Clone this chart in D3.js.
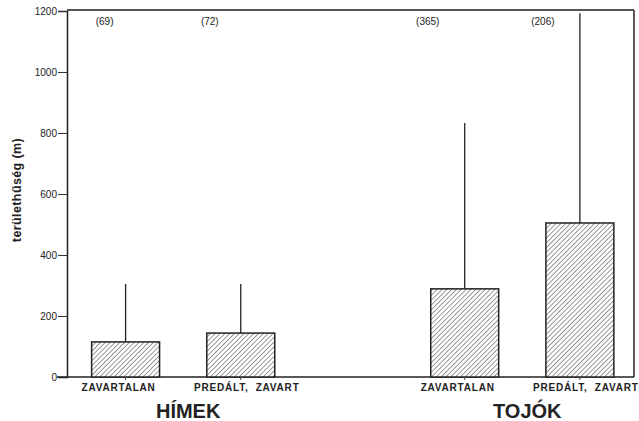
<!DOCTYPE html>
<html lang="hu">
<head>
    <meta charset="UTF-8">
    <title>Területhűség</title>
    <script src="https://d3js.org/d3.v7.min.js"></script>
    <style>
        body { margin: 0; background: #fff; }
        text { font-family: "Liberation Sans", Arial, sans-serif; fill: #222; }
        .tick-label { font-size: 10px; }
        .cat-label { font-size: 10px; font-weight: bold; letter-spacing: 0.8px; }
        .group-label { font-size: 20px; font-weight: bold; }
        .n-label { font-size: 10px; }
        .y-title { font-size: 12.5px; font-weight: bold; letter-spacing: 0.4px; }
    </style>
</head>
<body>
<div id="chart"></div>
<script>
    // data
    var groups = ["HÍMEK", "TOJÓK"];
    var categories = ["ZAVARTALAN", "PREDÁLT,  ZAVART"];
    var means = [[115, 144], [289, 505]];
    var upper = [[305, 305], [833, 1193]];
    var sampleSizes = [["(69)", "(72)"], ["(365)", "(206)"]];
    var yTicks = [0, 200, 400, 600, 800, 1000, 1200];

    var w = 639;
    var h = 421;
    var plotLeft = 67, plotRight = 634, plotTop = 11, plotBottom = 377;

    var rows = [];
    groups.forEach(function(g, gi) {
        categories.forEach(function(c, ci) {
            rows.push({group: g, gi: gi, cat: c, ci: ci, mean: means[gi][ci], up: upper[gi][ci], n: sampleSizes[gi][ci]});
        });
    });

    var svg = d3.select("#chart")
                .append("svg")
                .attr("width", w)
                .attr("height", h);

    var pattern = svg.append("defs")
        .append("pattern")
        .attr("id", "hatch")
        .attr("patternUnits", "userSpaceOnUse")
        .attr("width", 3.4)
        .attr("height", 3.4)
        .attr("patternTransform", "rotate(45)");
    pattern.append("rect").attr("width", 3.4).attr("height", 3.4).attr("fill", "#fff");
    pattern.append("line")
        .attr("x1", 0).attr("y1", 0).attr("x2", 0).attr("y2", 3.4)
        .attr("stroke", "#333").attr("stroke-width", 1);

    var xGroup = d3.scaleBand()
                   .domain(groups)
                   .range([plotLeft, plotRight])
                   .paddingInner(0.46)
                   .paddingOuter(0.066)
                   .align(0.55);

    var xCat = d3.scaleBand()
                 .domain(categories)
                 .range([0, xGroup.bandwidth()])
                 .paddingInner(0.41)
                 .paddingOuter(0);

    var yScale = d3.scaleLinear()
                   .domain([0, 1200])
                   .range([plotBottom, plotTop]);

    function barX(d) { return xGroup(d.group) + xCat(d.cat); }
    function barMid(d) { return barX(d) + xCat.bandwidth() / 2; }

    // frame: top and right lines
    svg.append("line")
       .attr("x1", plotLeft).attr("x2", plotRight)
       .attr("y1", plotTop - 1).attr("y2", plotTop - 1)
       .attr("stroke", "#555").attr("stroke-width", 2);
    svg.append("line")
       .attr("x1", plotRight).attr("x2", plotRight)
       .attr("y1", plotTop - 1).attr("y2", plotBottom)
       .attr("stroke", "#222").attr("stroke-width", 1.5);

    // y axis
    var yAxis = svg.append("g")
       .attr("transform", "translate(" + plotLeft + ",0)")
       .call(d3.axisLeft(yScale).tickValues(yTicks).tickSize(9).tickPadding(1).tickFormat(d3.format("d")));
    yAxis.attr("font-family", null).attr("font-size", null);
    yAxis.select(".domain").attr("stroke", "#222").attr("stroke-width", 1.5);
    yAxis.selectAll(".tick line").attr("stroke", "#333");
    yAxis.selectAll(".tick text").attr("class", "tick-label").attr("fill", "#333");

    // x axis baseline
    svg.append("line")
       .attr("x1", plotLeft - 10).attr("x2", plotRight)
       .attr("y1", plotBottom).attr("y2", plotBottom)
       .attr("stroke", "#222").attr("stroke-width", 1.5);

    // whiskers
    svg.selectAll(".whisker")
       .data(rows)
       .enter()
       .append("line")
       .attr("class", "whisker")
       .attr("x1", barMid).attr("x2", barMid)
       .attr("y1", function(d) { return yScale(d.mean); })
       .attr("y2", function(d) { return yScale(d.up); })
       .attr("stroke", "#222").attr("stroke-width", 1.3);

    // bars
    svg.selectAll(".bar")
       .data(rows)
       .enter()
       .append("rect")
       .attr("class", "bar")
       .attr("x", barX)
       .attr("y", function(d) { return yScale(d.mean); })
       .attr("width", xCat.bandwidth())
       .attr("height", function(d) { return plotBottom - yScale(d.mean); })
       .attr("fill", "url(#hatch)")
       .attr("stroke", "#222")
       .attr("stroke-width", 1.5);

    // small ticks under bars
    svg.selectAll(".xtick")
       .data(rows)
       .enter()
       .append("line")
       .attr("class", "xtick")
       .attr("x1", barMid).attr("x2", barMid)
       .attr("y1", plotBottom).attr("y2", plotBottom + 3)
       .attr("stroke", "#444").attr("stroke-width", 1);

    // sample sizes (first group sits a bit right of the bar edge, second a bit left)
    svg.selectAll(".n-label")
       .data(rows)
       .enter()
       .append("text")
       .attr("class", "n-label")
       .attr("x", function(d) { return barX(d) + (d.gi === 0 ? (d.ci === 0 ? 13 : 3) : -3); })
       .attr("y", 25)
       .attr("text-anchor", "middle")
       .text(function(d) { return d.n; });

    // category labels
    svg.selectAll(".cat-label")
       .data(rows)
       .enter()
       .append("text")
       .attr("class", "cat-label")
       .attr("x", function(d) { return barMid(d) + (d.ci === 0 ? -7 : 6); })
       .attr("y", 391)
       .attr("text-anchor", "middle")
       .style("white-space", "pre")
       .text(function(d) { return d.cat; });

    // group labels
    svg.selectAll(".group-label")
       .data(groups)
       .enter()
       .append("text")
       .attr("class", "group-label")
       .attr("x", function(d) { return xGroup(d) + xGroup.bandwidth() / 2 + 5; })
       .attr("y", 418)
       .attr("text-anchor", "middle")
       .text(function(d) { return d; });

    // y title
    svg.append("text")
       .attr("class", "y-title")
       .attr("transform", "translate(21,190) rotate(-90)")
       .attr("text-anchor", "middle")
       .text("területhűség (m)");
</script>
</body>
</html>
